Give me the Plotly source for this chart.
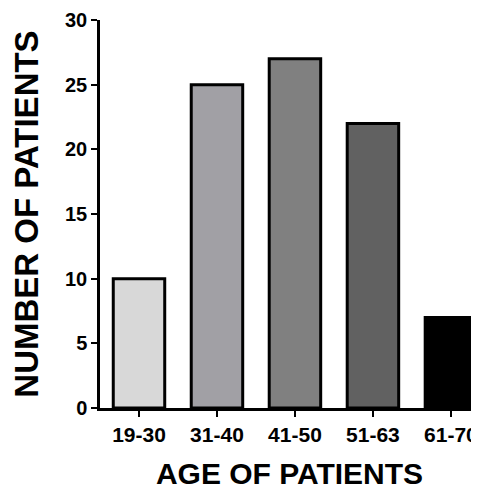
import plotly.graph_objects as go

categories = ["19-30", "31-40", "41-50", "51-63", "61-70"]
values = [10, 25, 27, 22, 7]
colors = ["#d8d8d8", "#a1a0a5", "#808080", "#616161", "#000000"]
y_ticks = [0, 5, 10, 15, 20, 25, 30]

fig = go.Figure(go.Bar(
    x=list(range(len(categories))), y=values,
    marker=dict(color=colors, line=dict(color="black", width=3)),
    width=0.66,
))
font = "Liberation Sans, Arial, sans-serif"
fig.update_layout(
    width=471, height=482,
    margin=dict(l=92, r=0, t=12, b=82),
    plot_bgcolor="white", paper_bgcolor="white",
    showlegend=False,
    font=dict(family=font, color="black"),
    xaxis=dict(
        range=[-0.5, 4.36], tickvals=list(range(len(categories))), ticktext=["<b>%s</b>" % c for c in categories],
        showline=True, linecolor="black", linewidth=2.5, ticks="outside", ticklen=6, tickwidth=2,
        tickcolor="black", tickfont=dict(size=21, family=font), showgrid=False, zeroline=False,
        title=dict(text="<b>AGE OF PATIENTS</b>", font=dict(size=30, family=font), standoff=20),
    ),
    yaxis=dict(
        range=[0, 30], tickvals=y_ticks, ticktext=["<b>%d</b>" % v for v in y_ticks],
        showline=True, linecolor="black", linewidth=2.5, ticks="outside", ticklen=6, tickwidth=2,
        tickcolor="black", tickfont=dict(size=20, family=font), showgrid=False, zeroline=False,
        title=dict(text="<b>NUMBER OF PATIENTS</b>", font=dict(size=33, family=font), standoff=24),
    ),
)
fig.write_html("out.html")
